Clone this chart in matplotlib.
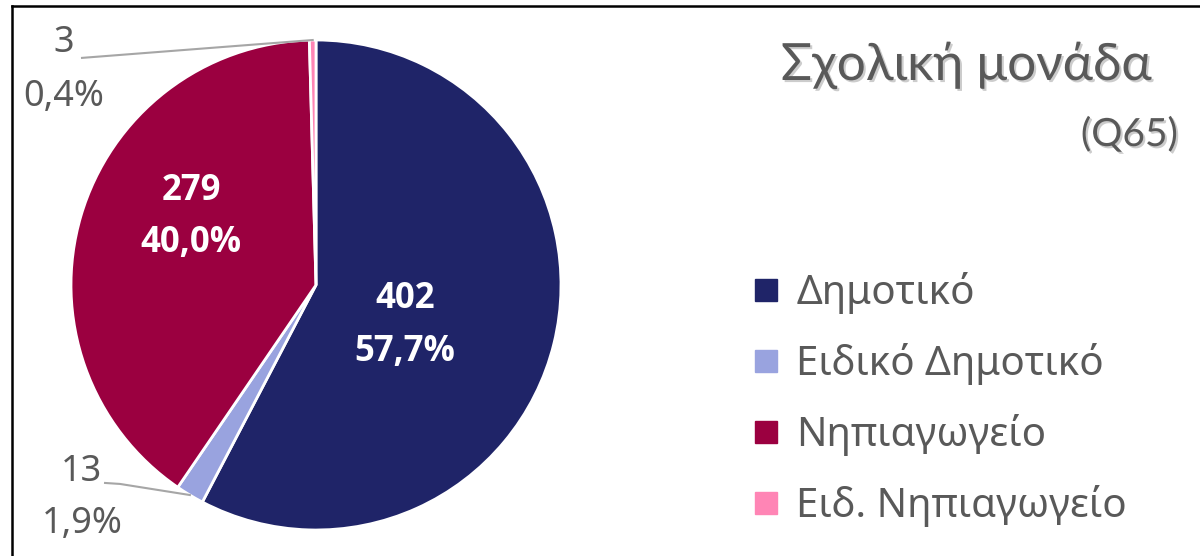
import matplotlib
matplotlib.use("Agg")
import matplotlib.pyplot as plt
import matplotlib.patheffects as pe
from matplotlib.lines import Line2D
import numpy as np

categories = ["Δημοτικό", "Ειδικό Δημοτικό", "Νηπιαγωγείο", "Ειδ. Νηπιαγωγείο"]
counts = [402, 13, 279, 3]
percent_labels = ["57,7%", "1,9%", "40,0%", "0,4%"]
colors = ["#1F2468", "#99A3DF", "#9B0040", "#FF85B5"]

title = "Σχολική μονάδα"
subtitle = "(Q65)"

W, H, DPI = 1200, 556, 100
gray = "#595959"
plt.rcParams['font.family'] = ['Noto Sans', 'DejaVu Sans']

fig = plt.figure(figsize=(W / DPI, H / DPI), dpi=DPI, facecolor="white")

# frame (only left and top visible in the crop)
fig.add_artist(Line2D([12 / W, 12 / W], [-0.1, 1 - 6 / H], color="black", lw=1.8,
                      transform=fig.transFigure))
fig.add_artist(Line2D([12 / W, 1.1], [1 - 6 / H, 1 - 6 / H], color="black", lw=1.8,
                      transform=fig.transFigure))

# pie axes, centre (316, 285) px, radius 245 px
cx, cy, r = 316, 285, 245
half = 250
ax = fig.add_axes([(cx - half) / W, (H - cy - half) / H, 2 * half / W, 2 * half / H])

wedges, _ = ax.pie(counts, colors=colors, startangle=90, counterclock=False,
                   radius=1.0, wedgeprops=dict(edgecolor="white", linewidth=2))
ax.set_xlim(-half / r, half / r)
ax.set_ylim(-half / r, half / r)
ax.set_aspect("equal")
ax.axis("off")

# inside labels for the two big slices
bold = dict(color="white", fontsize=25, fontweight="bold", ha="center", va="center",
            family=['Open Sans', 'DejaVu Sans'])
ax.text(0.363, -0.057, str(counts[0]), **bold)
ax.text(0.363, -0.273, percent_labels[0], **bold)
ax.text(-0.51, 0.384, str(counts[2]), **bold)
ax.text(-0.51, 0.171, percent_labels[2], **bold)

# outside labels with leader lines
total = sum(counts)
start = 90.0
mids = []
for c in counts:
    mids.append(start - 360.0 * c / total / 2)
    start -= 360.0 * c / total

def edge(i):
    a = np.deg2rad(mids[i])
    return np.cos(a), np.sin(a)

lc = "#A6A6A6"
out = dict(color=gray, fontsize=26, ha="center", va="center", clip_on=False)
# Ειδ. Νηπιαγωγείο
ex, ey = edge(3)
ax.plot([-0.955, ex], [0.927, ey], color=lc, lw=1.5, clip_on=False)
ax.text(-1.029, 0.988, str(counts[3]), **out)
ax.text(-1.029, 0.767, percent_labels[3], **out)
# Ειδικό Δημοτικό
ex, ey = edge(1)
ax.plot([-0.861, -0.80, ex], [-0.808, -0.812, ey], color=lc, lw=1.5, clip_on=False)
ax.text(-0.959, -0.763, str(counts[1]), **out)
ax.text(-0.955, -0.976, percent_labels[1], **out)

# title
shadow = [pe.SimplePatchShadow(offset=(1.5, -1.5), shadow_rgbFace="#AAAAAA", alpha=0.6), pe.Normal()]
fig.text(1152 / W, 1 - 80 / H, title, color=gray, fontsize=37, ha="right", va="baseline",
         path_effects=shadow, family=['Lato', 'DejaVu Sans'])
fig.text(1178 / W, 1 - 146 / H, subtitle, color=gray, fontsize=28, ha="right", va="baseline",
         path_effects=shadow, family=['Lato', 'DejaVu Sans'])

# legend
handles = [Line2D([], [], marker="s", linestyle="none", markersize=16,
                  markerfacecolor=col, markeredgecolor=col) for col in colors]
leg = fig.legend(handles, categories, loc="upper left",
                 bbox_to_anchor=(730 / W, 1 - 256 / H), frameon=False,
                 fontsize=29, labelcolor=gray, handlelength=1.0, handletextpad=0.25,
                 labelspacing=0.72, borderaxespad=0)

fig.savefig("out.png", dpi=DPI, facecolor="white")
